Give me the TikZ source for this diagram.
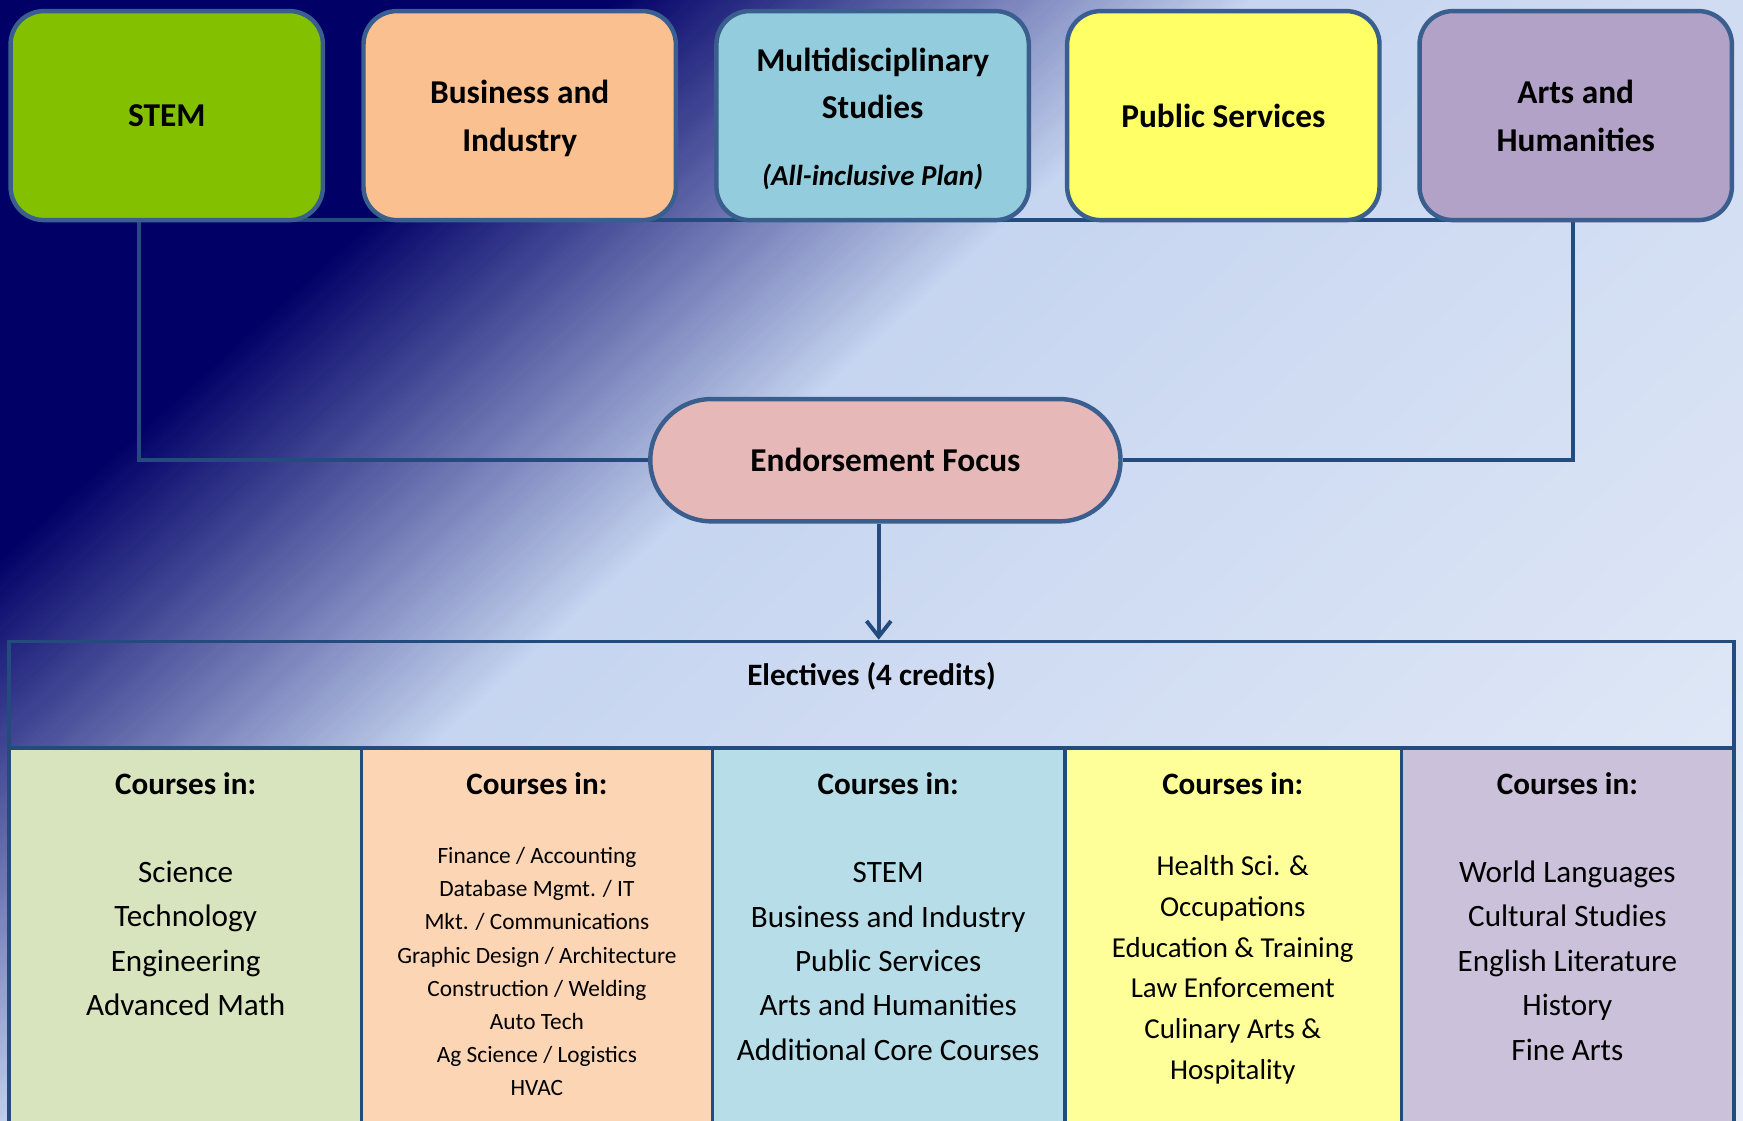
\documentclass[tikz,border=0pt]{standalone}
\usepackage{fontspec}
\setmainfont{Carlito}
\usetikzlibrary{arrows.meta}
\pgfdeclarelayer{back}
\pgfdeclarelayer{connlayer}
\pgfsetlayers{back,connlayer,main}
\definecolor{bgdark}{HTML}{000066}
\definecolor{bgmid}{HTML}{C6D5F0}
\definecolor{bglight}{HTML}{E8EEF8}
\definecolor{boxline}{HTML}{3A5F8E}
\definecolor{connline}{HTML}{234B7E}
\definecolor{cstem}{HTML}{83C100}
\definecolor{cbus}{HTML}{FAC090}
\definecolor{cmulti}{HTML}{93CDDD}
\definecolor{cpub}{HTML}{FFFF66}
\definecolor{carts}{HTML}{B3A2C7}
\definecolor{cfocus}{HTML}{E6B9B8}
\definecolor{kstem}{HTML}{D7E4BD}
\definecolor{kbus}{HTML}{FCD5B5}
\definecolor{kmulti}{HTML}{B7DEE8}
\definecolor{kpub}{HTML}{FFFF99}
\definecolor{karts}{HTML}{CCC1DA}
\begin{document}
\begin{tikzpicture}[x=1pt,y=-1pt,
  topbox/.style={draw=boxline, line width=4pt, rounded corners=30pt,
    minimum width=281pt, minimum height=188pt, align=center, inner sep=0pt,
    font=\fontsize{30}{43}\selectfont\bfseries},
  focusbox/.style={draw=boxline, line width=4pt, rounded corners=55pt,
    minimum width=423pt, minimum height=110pt, fill=cfocus, inner sep=0pt,
    font=\fontsize{30}{36}\selectfont\bfseries},
  conn/.style={draw=connline, line width=3.5pt},
  colbox/.style={draw=connline, line width=3pt, minimum height=342pt, inner sep=0pt},
  headtext/.style={font=\fontsize{28}{34}\selectfont\bfseries, inner sep=0pt},
  bigitems/.style={font=\fontsize{28}{40}\selectfont, align=center, inner sep=0pt},
]
\useasboundingbox (0,0) rectangle (1568,1008);
% background gradient
\begin{pgfonlayer}{back}
\begin{scope}
  \clip (0,0) rectangle (1568,1008);
  \fill[bgdark] (-20,-20) rectangle (1600,1040);
  \foreach \i in {0,...,115}{
    \pgfmathsetmacro{\ta}{550+5*\i}
    \pgfmathsetmacro{\tb}{\ta+6}
    \pgfmathtruncatemacro{\p}{round(100*(\i+0.5)/116)}
    \fill[bgmid!\p!bgdark] (\ta+55,-50) -- (\tb+55,-50) -- (\tb-1210,1100) -- (\ta-1210,1100) -- cycle;
  }
  \foreach \i in {0,...,79}{
    \pgfmathsetmacro{\ta}{1130+20*\i}
    \pgfmathsetmacro{\tb}{\ta+21}
    \pgfmathtruncatemacro{\p}{round(100*(\i+0.5)/80)}
    \fill[bglight!\p!bgmid] (\ta+55,-50) -- (\tb+55,-50) -- (\tb-1210,1100) -- (\ta-1210,1100) -- cycle;
  }
\end{scope}
\end{pgfonlayer}

% top boxes
\node[topbox, fill=cstem] (stem) at (150,104) {STEM};
\node[topbox, fill=cbus, text depth=0pt] (bus) at (467.5,104) {Business and\\Industry};
\node[topbox, fill=cmulti] (multi) at (785,104) {};
\node[topbox, fill=cpub] (pub) at (1100.5,104) {Public Services};
\node[topbox, fill=carts] (arts) at (1417.5,104) {Arts and\\Humanities};
\node[font=\fontsize{30}{43}\selectfont\bfseries, align=center, inner sep=0pt] (multit) at (785,75) {Multidisciplinary\\Studies};
\node[font=\fontsize{26}{30}\selectfont\bfseries\itshape, inner sep=0pt] (multii) at (785,159) {(All-inclusive Plan)};

% focus
\node[focusbox] (focus) at (796.5,414) {Endorsement Focus};

% connectors (behind boxes)
\path (stem.south) ++(-25,-2) coordinate (jl);
\path (arts.south) ++(-2.5,-2) coordinate (jr);
\path (focus.south) ++(-6,0) coordinate (fs);
\begin{pgfonlayer}{connlayer}
\draw[conn, line join=miter] (focus.west) -| (jl) -- (jr) |- (focus.east);
\end{pgfonlayer}

% electives frame
\node[draw=connline, line width=3pt, minimum width=1552pt, minimum height=438pt, inner sep=0pt] (elect) at (784,796) {};
\node[headtext] (electt) at (784,608) {Electives (4 credits)};

% columns
\node[colbox, fill=kstem, minimum width=317pt] (c1) at (166.5,844) {};
\node[colbox, fill=kbus, minimum width=316pt] (c2) at (483,844) {};
\node[colbox, fill=kmulti, minimum width=317pt] (c3) at (799.5,844) {};
\node[colbox, fill=kpub, minimum width=303pt] (c4) at (1109.5,844) {};
\node[colbox, fill=karts, minimum width=299pt] (c5) at (1410.5,844) {};

\node[headtext] (h1) at (167,705) {Courses in:};
\node[headtext] (h2) at (483,705) {Courses in:};
\node[headtext] (h3) at (799,705) {Courses in:};
\node[headtext] (h4) at (1109,705) {Courses in:};
\node[headtext] (h5) at (1410,705) {Courses in:};

\node[bigitems] (l1) at (167,844) {Science\\Technology\\Engineering\\Advanced Math};
\node[font=\fontsize{21}{29.8}\selectfont, align=center, inner sep=0pt] (l2) at (483,874) {Finance / Accounting\\Database Mgmt. / IT\\Mkt. / Communications\\Graphic Design / Architecture\\Construction / Welding\\Auto Tech\\Ag Science / Logistics\\HVAC};
\node[bigitems] (l3) at (799,865) {STEM\\Business and Industry\\Public Services\\Arts and Humanities\\Additional Core Courses};
\node[font=\fontsize{26}{36.6}\selectfont, align=center, inner sep=0pt] (l4) at (1109,872.5) {Health Sci. \&\\Occupations\\Education \& Training\\Law Enforcement\\Culinary Arts \&\\Hospitality};
\node[bigitems] (l5) at (1410,864) {World Languages\\Cultural Studies\\English Literature\\History\\Fine Arts};

% arrow
\draw[conn, -{Straight Barb[length=14pt,width=22pt]}] (fs) -- (fs |- elect.north);
\end{tikzpicture}
\end{document}
